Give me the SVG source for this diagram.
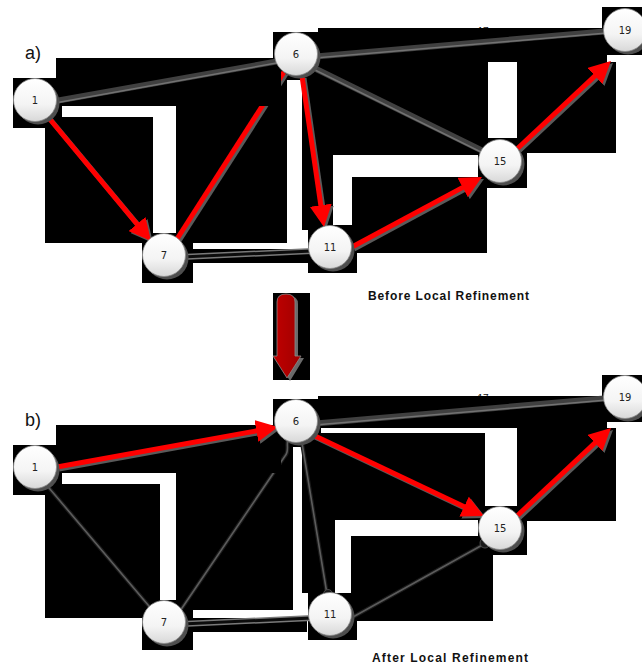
<svg xmlns="http://www.w3.org/2000/svg" width="642" height="670" viewBox="0 0 642 670">
  <defs>
    <linearGradient id="nodeFill" x1="0" y1="0" x2="0" y2="1">
      <stop offset="0" stop-color="#ffffff"/>
      <stop offset="0.6" stop-color="#f4f4f4"/>
      <stop offset="1" stop-color="#d8d8d8"/>
    </linearGradient>
    <linearGradient id="arrowFill" x1="0" y1="0" x2="1" y2="0">
      <stop offset="0" stop-color="#c00000"/>
      <stop offset="1" stop-color="#a00000"/>
    </linearGradient>
    <marker id="headRed" viewBox="0 0 22 22" markerWidth="22" markerHeight="22" refX="6" refY="11" orient="auto" markerUnits="userSpaceOnUse">
      <path d="M0,0 L22,11 L0,22 Z" fill="#ff0000"/>
    </marker>
    <marker id="headShadow" viewBox="0 0 22 22" markerWidth="22" markerHeight="22" refX="6" refY="11" orient="auto" markerUnits="userSpaceOnUse">
      <path d="M0,0 L22,11 L0,22 Z" fill="#5a5a5a"/>
    </marker>
    <style>
      .box { fill: #000000; }
      .tube { stroke: #404040; stroke-width: 6; fill: none; }
      .tubeHi { stroke: #727272; stroke-width: 1.4; fill: none; }
      .rod { stroke: #7a7a7a; stroke-width: 6; fill: none; }
      .rodCore { stroke: #0c0c0c; stroke-width: 3; fill: none; }
      .red { stroke: #ff0000; stroke-width: 5; fill: none; }
      .redShadow { stroke: #5a5a5a; stroke-width: 5; fill: none; }
      .thinOut { stroke: #1a1a1a; stroke-width: 4; fill: none; stroke-linecap: round; }
      .thinIn { stroke: #5c5c5c; stroke-width: 1.6; fill: none; stroke-linecap: round; }
      .blob { fill: #1a1a1a; stroke: #4a4a4a; stroke-width: 1; }
      .shade { fill: #4e4e4e; }
      .disc { fill: url(#nodeFill); stroke: #8c8c8c; stroke-width: 0.8; }
      .num { font-family: "DejaVu Sans", Verdana, sans-serif; font-size: 10px; fill: #222222; text-anchor: middle; }
      .tag { font-family: "Liberation Sans", Arial, sans-serif; font-size: 18px; fill: #111111; }
      .cap { font-family: "Liberation Sans", Arial, sans-serif; font-size: 12px; font-weight: bold; fill: #111111; }
      .wt { font-family: "Liberation Sans", Arial, sans-serif; font-size: 10px; fill: #111111; text-anchor: middle; }
    </style>
  </defs>

  <rect x="0" y="0" width="642" height="670" fill="#ffffff"/>

  <!-- edge weight labels sitting behind the 6-19 edge -->
  <text class="wt" x="483" y="35">17</text>
  <text class="wt" x="483" y="402">17</text>

  <!-- ===== panel a: backdrop rectangles ===== -->
  <g id="backdrop-a">
    <rect class="box" x="13" y="78" width="49" height="50"/>
    <rect class="box" x="273" y="32" width="48" height="48"/>
    <rect class="box" x="142" y="233" width="51" height="50"/>
    <rect class="box" x="308" y="225" width="49" height="48"/>
    <rect class="box" x="478" y="138" width="49" height="50"/>
    <rect class="box" x="602" y="7" width="40" height="48"/>
    <rect class="box" x="176" y="72" width="111" height="171"/>
    <!-- red 7-6 path, partly hidden by the 1-6 backdrop -->
    <line class="redShadow" x1="179" y1="241" x2="286" y2="74"/>
    <line class="red" x1="177" y1="239" x2="284" y2="72"/>
    <rect class="box" x="56" y="58" width="225" height="48"/>
    <rect class="box" x="45" y="117" width="108" height="126"/>
    <rect class="box" x="302" y="75" width="31" height="155"/>
    <rect class="box" x="313" y="62" width="175" height="93"/>
    <rect class="box" x="318" y="28" width="289" height="34"/>
    <rect class="box" x="517" y="62" width="99" height="91"/>
    <rect class="box" x="352" y="177" width="135" height="76"/>
    <rect class="box" x="185" y="249" width="123" height="14"/>
  </g>

  <!-- ===== panel b: backdrop rectangles ===== -->
  <g id="backdrop-b">
    <rect class="box" x="13" y="445" width="49" height="50"/>
    <rect class="box" x="273" y="399" width="48" height="48"/>
    <rect class="box" x="142" y="600" width="51" height="50"/>
    <rect class="box" x="308" y="593" width="49" height="47"/>
    <rect class="box" x="478" y="506" width="49" height="49"/>
    <rect class="box" x="602" y="375" width="40" height="47"/>
    <rect class="box" x="176" y="440" width="117" height="170"/>
    <!-- 6-7 connector with its hooked end, partly hidden by the 1-6 backdrop -->
    <path class="thinOut" d="M292,437 C283,440 291,450 285,456 L180,611"/>
    <path class="thinIn" d="M292,437 C283,440 291,450 285,456 L180,611"/>
    <rect class="box" x="56" y="425" width="225" height="48"/>
    <rect class="box" x="45" y="484" width="115" height="134"/>
    <rect class="box" x="302" y="445" width="33" height="148"/>
    <rect class="box" x="313" y="433" width="172" height="87"/>
    <rect class="box" x="318" y="396" width="289" height="32"/>
    <rect class="box" x="517" y="428" width="99" height="93"/>
    <rect class="box" x="351" y="536" width="142" height="85"/>
    <rect class="box" x="193" y="618" width="114" height="14"/>
  </g>

  <!-- ===== connectors ===== -->
  <g id="connectors">
    <!-- panel a -->
    <line class="tube" x1="50" y1="102" x2="285" y2="60"/>
    <line class="tubeHi" x1="55" y1="103" x2="282" y2="62"/>
    <line class="tube" x1="310" y1="57" x2="610" y2="31"/>
    <line class="tubeHi" x1="315" y1="58" x2="607" y2="33"/>
    <line class="tube" x1="310" y1="66" x2="487" y2="153"/>
    <line class="tubeHi" x1="313" y1="69" x2="485" y2="154"/>
    <line class="rod" x1="182" y1="257" x2="312" y2="251"/>
    <line class="rodCore" x1="182" y1="257" x2="312" y2="251"/>

    <g transform="translate(2,2)">
      <line class="redShadow" x1="48" y1="117" x2="140.8" y2="228.7" marker-end="url(#headShadow)"/>
      <line class="redShadow" x1="302" y1="76" x2="321.7" y2="211.2" marker-end="url(#headShadow)"/>
      <line class="redShadow" x1="352" y1="247" x2="467.9" y2="184.6" marker-end="url(#headShadow)"/>
      <line class="redShadow" x1="517" y1="149" x2="599.3" y2="71.9" marker-end="url(#headShadow)"/>
    </g>
    <line class="red" x1="48" y1="117" x2="140.8" y2="228.7" marker-end="url(#headRed)"/>
    <line class="red" x1="302" y1="76" x2="321.7" y2="211.2" marker-end="url(#headRed)"/>
    <line class="red" x1="352" y1="247" x2="467.9" y2="184.6" marker-end="url(#headRed)"/>
    <line class="red" x1="517" y1="149" x2="599.3" y2="71.9" marker-end="url(#headRed)"/>

    <!-- panel b -->
    <line class="tube" x1="310" y1="424" x2="610" y2="398"/>
    <line class="tubeHi" x1="315" y1="425" x2="607" y2="400"/>
    <line class="rod" x1="182" y1="624" x2="312" y2="618"/>
    <line class="rodCore" x1="182" y1="624" x2="312" y2="618"/>

    <path class="thinOut" d="M44,482 L154,612"/>
    <path class="thinIn" d="M44,482 L154,612"/>
    <circle class="blob" cx="154" cy="611" r="5"/>
    <path class="thinOut" d="M302,443 L327,594"/>
    <path class="thinIn" d="M302,443 L327,594"/>
    <circle class="blob" cx="328" cy="594" r="4.5"/>
    <path class="thinOut" d="M353,617 L486,543"/>
    <path class="thinIn" d="M353,617 L486,543"/>
    <circle class="blob" cx="485" cy="543" r="5"/>

    <g transform="translate(2,2)">
      <line class="redShadow" x1="57" y1="467" x2="262.3" y2="429.8" marker-end="url(#headShadow)"/>
      <line class="redShadow" x1="313" y1="435" x2="469.5" y2="509.2" marker-end="url(#headShadow)"/>
      <line class="redShadow" x1="517" y1="516" x2="599.3" y2="438.9" marker-end="url(#headShadow)"/>
    </g>
    <line class="red" x1="57" y1="467" x2="262.3" y2="429.8" marker-end="url(#headRed)"/>
    <line class="red" x1="313" y1="435" x2="469.5" y2="509.2" marker-end="url(#headRed)"/>
    <line class="red" x1="517" y1="516" x2="599.3" y2="438.9" marker-end="url(#headRed)"/>
  </g>

  <!-- ===== nodes, panel a ===== -->
  <g id="a-node-1"><circle class="shade" cx="38" cy="103" r="21.5"/><circle class="disc" cx="35" cy="100" r="21.5"/><text class="num" x="35" y="103.5">1</text></g>
  <g id="a-node-6"><circle class="shade" cx="299" cy="57" r="21.5"/><circle class="disc" cx="296" cy="54" r="21.5"/><text class="num" x="296" y="57.5">6</text></g>
  <g id="a-node-7"><circle class="shade" cx="167" cy="258" r="21.5"/><circle class="disc" cx="164" cy="255" r="21.5"/><text class="num" x="164" y="258.5">7</text></g>
  <g id="a-node-11"><circle class="shade" cx="333" cy="250" r="21.5"/><circle class="disc" cx="330" cy="247" r="21.5"/><text class="num" x="330" y="250.5">11</text></g>
  <g id="a-node-15"><circle class="shade" cx="503" cy="164" r="21.5"/><circle class="disc" cx="500" cy="161" r="21.5"/><text class="num" x="500" y="164.5">15</text></g>
  <g id="a-node-19"><circle class="shade" cx="628" cy="33" r="21.5"/><circle class="disc" cx="625" cy="30" r="21.5"/><text class="num" x="625" y="33.5">19</text></g>

  <!-- ===== nodes, panel b ===== -->
  <g id="b-node-1"><circle class="shade" cx="38" cy="470" r="21.5"/><circle class="disc" cx="35" cy="467" r="21.5"/><text class="num" x="35" y="470.5">1</text></g>
  <g id="b-node-6"><circle class="shade" cx="299" cy="424" r="21.5"/><circle class="disc" cx="296" cy="421" r="21.5"/><text class="num" x="296" y="424.5">6</text></g>
  <g id="b-node-7"><circle class="shade" cx="167" cy="625" r="21.5"/><circle class="disc" cx="164" cy="622" r="21.5"/><text class="num" x="164" y="625.5">7</text></g>
  <g id="b-node-11"><circle class="shade" cx="333" cy="617" r="21.5"/><circle class="disc" cx="330" cy="614" r="21.5"/><text class="num" x="330" y="617.5">11</text></g>
  <g id="b-node-15"><circle class="shade" cx="503" cy="531" r="21.5"/><circle class="disc" cx="500" cy="528" r="21.5"/><text class="num" x="500" y="531.5">15</text></g>
  <g id="b-node-19"><circle class="shade" cx="628" cy="400" r="21.5"/><circle class="disc" cx="625" cy="397" r="21.5"/><text class="num" x="625" y="400.5">19</text></g>

  <!-- transition arrow between the two panels -->
  <g id="transition-arrow">
    <rect class="box" x="273" y="293" width="37" height="87"/>
    <path d="M280,304 Q280,296 289,296 Q298,296 298,304 L298,358 L304,358 L290,381 L276,358 L280,358 Z" fill="#6a6a6a"/>
    <path d="M277,302 Q277,294 286,294 Q295,294 295,302 L295,356 L301,356 L287,378 L273,356 L277,356 Z" fill="url(#arrowFill)" stroke="#8a8a8a" stroke-width="0.8"/>
  </g>

  <!-- panel tags and captions -->
  <text class="tag" x="25" y="59">a)</text>
  <text class="tag" x="25" y="426">b)</text>
  <text class="cap" x="368" y="300" textLength="161" lengthAdjust="spacing">Before Local Refinement</text>
  <text class="cap" x="372" y="662" textLength="156" lengthAdjust="spacing">After Local Refinement</text>
</svg>
